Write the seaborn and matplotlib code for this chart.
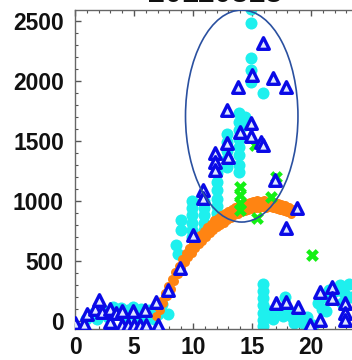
import matplotlib
matplotlib.use("Agg")
import matplotlib.pyplot as plt
import seaborn as sns
import pandas as pd
from matplotlib.patches import Ellipse
from matplotlib.ticker import MultipleLocator

# ---------------- data ----------------
title_text = "20110313"

cyan_x = [0.9, 1.4, 1.9, 2.4, 2.8, 3.2, 3.5, 3.9, 4.2, 4.5, 4.9, 5.2, 5.6, 6.0, 6.3, 6.7, 7.0, 7.2, 7.4, 7.9,
          8.6, 8.7, 9.0, 9.0, 9.9, 9.9, 9.9, 9.9, 9.9, 9.9, 10.9, 10.9, 10.9, 10.9, 10.9,
          12.0, 12.0, 12.0, 12.0, 12.0, 12.0, 12.0, 12.9, 12.9, 12.9, 12.9, 12.9,
          13.9, 13.9, 13.9, 13.9, 13.9, 13.9, 13.9, 13.9, 14.4, 14.4,
          14.9, 14.9, 14.9, 14.9, 14.9, 15.9,
          15.9, 15.9, 15.9, 15.9, 15.9, 15.9, 15.9,
          16.4, 16.8, 17.2, 17.6, 17.8, 18.0, 18.1, 18.4, 18.6, 18.9, 19.3, 19.7, 20.2,
          20.6, 20.9, 21.2, 21.3, 21.5, 22.0, 22.5, 22.6, 22.8, 23.2, 23.4]
cyan_y = [20, 60, 20, 90, 30, 120, 60, 110, 20, 90, 120, 40, 100, 30, 90, 20, 60, 110, 140, 60,
          633, 560, 840, 760, 1000, 940, 880, 820, 760, 700, 1000, 940, 880, 820, 760,
          1230, 1160, 1090, 1020, 960, 900, 850, 1560, 1490, 1420, 1350, 1280,
          1730, 1660, 1590, 1520, 1450, 1380, 1300, 1240, 1700, 1630,
          2600, 2486, 2190, 2090, 1994, 1903,
          310, 250, 190, 130, 70, 10, -40,
          80, 20, 100, 40, 200, 100, 60, 30, -20, 40, -20, 30, -30,
          150, 100, 200, 80, 260, 250, 300, 150, 230, 310, 200]

orange_x = [7.0, 7.3, 7.6, 7.9, 8.2, 8.5, 8.8, 9.1, 9.4, 9.7, 10.0, 10.3, 10.6, 10.9, 11.2, 11.5, 11.8, 12.1,
            12.4, 12.7, 13.0, 13.3, 13.6, 13.9, 14.2, 14.5, 14.8, 15.1, 15.4, 15.7, 16.0, 16.3, 16.6, 16.9,
            17.2, 17.5, 17.8, 18.1, 18.4,
            6.9, 7.2, 7.5, 7.8, 8.1, 8.4, 8.7, 9.0, 9.3, 9.6, 9.9, 10.2, 10.5, 10.8, 11.1, 11.4, 11.7, 12.0,
            12.3, 12.6, 12.9, 13.2, 13.5, 13.8, 14.1, 14.4, 14.7, 15.0, 15.3, 15.6, 15.9, 16.2, 16.5, 16.8,
            17.1, 17.4, 17.7, 18.0, 18.3]
orange_y = [120, 170, 230, 290, 350, 410, 460, 520, 570, 610, 650, 690, 720, 750, 780, 810, 840, 860,
            880, 900, 920, 935, 950, 965, 975, 985, 995, 1000, 1005, 1000, 1005, 995, 1000, 990,
            985, 975, 965, 950, 935,
            40, 90, 150, 210, 270, 330, 390, 440, 490, 530, 570, 610, 640, 670, 700, 730, 760, 780,
            800, 820, 840, 860, 880, 890, 905, 915, 925, 935, 940, 945, 950, 945, 950, 940,
            935, 925, 915, 905, 895]

green_x = [14.0, 14.0, 14.0, 14.0, 15.25, 15.4, 16.6, 17.0, 20.1]
green_y = [1120, 1050, 985, 925, 1467, 860, 1030, 1200, 550]

tri_x = [0.0, 0.8, 1.0, 1.7, 2.0, 2.3, 3.0, 3.0, 3.5, 4.0, 4.0, 4.5, 4.9, 5.0, 5.5, 5.9, 6.0, 6.9, 7.0,
         7.9, 8.9, 9.97, 10.85, 10.85, 11.86, 11.86, 11.86, 12.85, 12.9, 13.0, 13.84, 13.98, 14.89, 14.9,
         14.97, 15.8, 15.9, 15.96, 16.8, 17.88, 16.95, 18.84, 17.9,
         17.0, 17.9, 18.9, 19.9, 20.8, 20.8, 21.8, 21.8, 22.9, 22.9, 22.9]
tri_y = [-20, -25, 55, 100, 175, 75, 100, -10, 70, 80, -35, -35, 80, -35, -35, 90, -35, 160, -35,
         258, 439, 717, 1092, 1022, 1397, 1328, 1258, 1758, 1480, 1369, 1947, 1578, 1647, 1542,
         2050, 1494, 1467, 2319, 2022, 1947, 1175, 939, 772,
         147, 161, 119, -33, 8, 240, 286, 189, 147, 64, 8]

x_ticks = [0, 5, 10, 15, 20]
y_ticks = [0, 500, 1000, 1500, 2000, 2500]

# ---------------- plot ----------------
sns.set_style("white")
plt.rcParams["font.family"] = ["Liberation Sans", "DejaVu Sans"]

fig = plt.figure(figsize=(3.52, 3.60), dpi=100)
ax = fig.add_axes([75 / 352, 31 / 360, 295 / 352, 319 / 360])

sns.scatterplot(x=cyan_x, y=cyan_y, ax=ax, color="#1ef0ee", s=75, linewidth=0,
                marker="o", zorder=2)
sns.scatterplot(x=orange_x, y=orange_y, ax=ax, color="#ff8412", s=42, linewidth=0,
                marker="o", zorder=3)
sns.scatterplot(x=green_x, y=green_y, ax=ax, color="#14f014", s=85, linewidth=0,
                marker="X", zorder=4)
sns.scatterplot(x=tri_x, y=tri_y, ax=ax, facecolor="#dfe8ff", edgecolor="#0a0ae6", s=70,
                linewidth=2.4, marker="^", zorder=5)

ell = Ellipse((14.13, 1708), width=9.53, height=1767, fill=False,
              edgecolor="#2a50a0", linewidth=1.2, zorder=6)
ax.add_patch(ell)

ax.set_xlim(0, 25)
ax.set_ylim(-67, 2592)
ax.set_xticks(x_ticks)
ax.set_yticks(y_ticks)
ax.xaxis.set_minor_locator(MultipleLocator(1))
ax.yaxis.set_minor_locator(MultipleLocator(100))
ax.tick_params(axis="both", which="both", direction="in", colors="#555555",
               labelcolor="#111111", top=True, right=False, bottom=True, left=True)
ax.tick_params(axis="both", which="major", length=4, width=1, labelsize=16.5)
ax.tick_params(axis="both", which="minor", length=2.5, width=0.8)
ax.tick_params(axis="y", which="major", pad=8)
ax.tick_params(axis="x", which="major", pad=5)
for lab in ax.get_xticklabels() + ax.get_yticklabels():
    lab.set_fontweight("bold")
for side in ["left", "bottom", "top"]:
    ax.spines[side].set_color("#666666")
    ax.spines[side].set_linewidth(1.0)
ax.spines["right"].set_visible(False)

fig.text(215 / 352, 1 - 2 / 360, title_text, ha="center", va="baseline",
         fontsize=22, fontweight="bold", color="#111111")

fig.savefig("out.png", dpi=100)
